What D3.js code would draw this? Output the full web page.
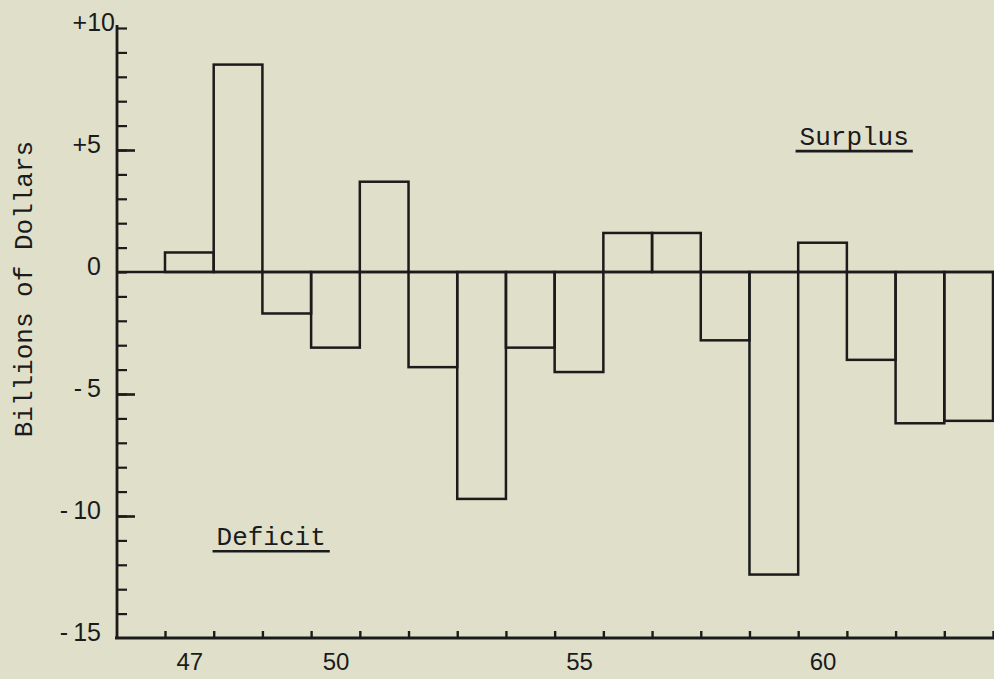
<!DOCTYPE html>
<html>
<head>
<meta charset="utf-8">
<script src="https://cdn.jsdelivr.net/npm/d3@7"></script>
<style>
  html, body { margin: 0; padding: 0; background: #e0e0ca; }
  svg { display: block; }
</style>
</head>
<body>
<div id="chart"></div>
<script>
// Federal budget surplus / deficit by fiscal year (billions of dollars)
const years = [1947, 1948, 1949, 1950, 1951, 1952, 1953, 1954, 1955,
               1956, 1957, 1958, 1959, 1960, 1961, 1962, 1963];
const balance = [0.8, 8.5, -1.7, -3.1, 3.7, -3.9, -9.3, -3.1, -4.1,
                 1.6, 1.6, -2.8, -12.4, 1.2, -3.6, -6.2, -6.1];
const yLabelTicks = [-15, -10, -5, 0, 5, 10];
const xLabelYears = [1947, 1950, 1955, 1960];

const width = 994, height = 679;
const ink = '#1b1b1b';

const svg = d3.select('#chart')
    .append('svg')
    .attr('width', width)
    .attr('height', height);

// Scales - each bar spans one year, edges at half years
const x = d3.scaleLinear()
    .domain([years[0] - 0.5, years[years.length - 1] + 0.5])
    .range([165, 993]);

const y = d3.scaleLinear()
    .domain([-15, 10])
    .range([638, 28]);

const axisX = 117;

// Y axis minor ticks (every unit)
svg.append('g')
    .attr('transform', `translate(${axisX},0)`)
    .call(d3.axisRight(y).tickValues(d3.range(-14, 11)).tickSize(10).tickFormat(''))
    .call(g => g.select('.domain').remove())
    .call(g => g.selectAll('line').attr('stroke', ink).attr('stroke-width', 2.2));

// Y axis major ticks
svg.append('g')
    .attr('transform', `translate(${axisX},0)`)
    .call(d3.axisRight(y).tickValues([-10, -5, 5]).tickSize(18).tickFormat(''))
    .call(g => g.select('.domain').remove())
    .call(g => g.selectAll('line').attr('stroke', ink).attr('stroke-width', 2.6));

// Y axis labels (typewriter style: gap after the minus sign)
svg.append('g')
    .attr('transform', `translate(${axisX},0)`)
    .call(d3.axisLeft(y).tickValues(yLabelTicks).tickSize(0).tickPadding(16)
        .tickFormat(d => d > 0 ? '+' + d : d < 0 ? '-\u2009' + Math.abs(d) : String(d)))
    .call(g => g.select('.domain').remove())
    .call(g => g.selectAll('text')
        .attr('dy', '0.1em')
        .attr('dx', d => d === 10 ? 14 : 0)
        .attr('fill', ink)
        .style('font-family', '"Liberation Sans", Arial, sans-serif')
        .style('font-size', '25px'));

// X axis tick marks at bar edges
const edges = years.map(d => d - 0.5).concat([years[years.length - 1] + 0.5]);
svg.append('g')
    .attr('transform', `translate(0,${y(-15)})`)
    .call(d3.axisTop(x).tickValues(edges).tickSize(7).tickFormat(''))
    .call(g => g.select('.domain').remove())
    .call(g => g.selectAll('line').attr('stroke', ink).attr('stroke-width', 2.4));

// X axis labels
svg.append('g')
    .attr('transform', `translate(0,${y(-15)})`)
    .call(d3.axisBottom(x).tickValues(xLabelYears).tickSize(0).tickPadding(15)
        .tickFormat(d => String(d).slice(2)))
    .call(g => g.select('.domain').remove())
    .call(g => g.selectAll('text')
        .attr('fill', ink)
        .style('font-family', '"Liberation Sans", Arial, sans-serif')
        .style('font-size', '24px'));

// Bars (outlined only)
svg.append('g')
    .selectAll('rect')
    .data(years.map((yr, i) => ({ year: yr, value: balance[i] })))
    .enter()
    .append('rect')
    .attr('x', d => x(d.year - 0.5))
    .attr('y', d => y(Math.max(0, d.value)))
    .attr('width', d => x(d.year + 0.5) - x(d.year - 0.5))
    .attr('height', d => Math.abs(y(d.value) - y(0)))
    .attr('fill', 'none')
    .attr('stroke', ink)
    .attr('stroke-width', 2.5);

// Zero line
svg.append('line')
    .attr('x1', axisX).attr('x2', width)
    .attr('y1', y(0)).attr('y2', y(0))
    .attr('stroke', ink)
    .attr('stroke-width', 2.4);

// Axis lines
svg.append('line')
    .attr('x1', axisX).attr('x2', axisX)
    .attr('y1', y(10) - 3).attr('y2', y(-15) + 1)
    .attr('stroke', ink)
    .attr('stroke-width', 2.8);

svg.append('line')
    .attr('x1', axisX - 2).attr('x2', width)
    .attr('y1', y(-15)).attr('y2', y(-15))
    .attr('stroke', ink)
    .attr('stroke-width', 3);

// Y axis title
svg.append('text')
    .attr('transform', `translate(32,${y(-0.7)}) rotate(-90)`)
    .attr('text-anchor', 'middle')
    .attr('fill', ink)
    .style('font-family', '"Liberation Mono", "Courier New", monospace')
    .style('font-size', '26px')
    .text('Billions of Dollars');

// Underlined annotations
function note(text, cx, val) {
    const t = svg.append('text')
        .attr('x', x(cx))
        .attr('y', y(val))
        .attr('text-anchor', 'middle')
        .attr('fill', ink)
        .style('font-family', '"Liberation Mono", "Courier New", monospace')
        .style('font-size', '26px')
        .text(text);
    const bb = t.node().getBBox();
    svg.append('line')
        .attr('x1', bb.x - 4).attr('x2', bb.x + bb.width + 4)
        .attr('y1', y(val) + 6).attr('y2', y(val) + 6)
        .attr('stroke', ink)
        .attr('stroke-width', 2.6);
}

note('Surplus', 1960.65, 5.2);
note('Deficit', 1948.68, -11.2);
</script>
</body>
</html>
